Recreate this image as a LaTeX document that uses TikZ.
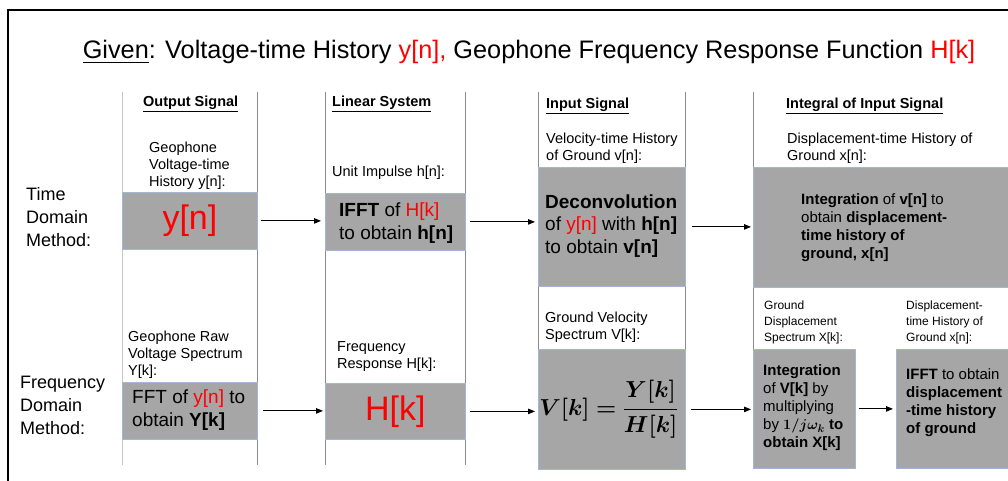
\documentclass[tikz,border=0pt]{standalone}
\usepackage[no-math]{fontspec}
\setmainfont{Liberation Sans}
\usepackage{amsmath,bm,graphicx}
\usetikzlibrary{arrows.meta}
\definecolor{boxfill}{HTML}{A6A6A6}
\definecolor{boxedge}{HTML}{A3B6D3}
\definecolor{sep}{HTML}{8C8C8C}
\definecolor{sepl}{HTML}{C4C4C4}
\definecolor{myred}{HTML}{FF0000}
\newcommand{\rd}[1]{\textcolor{myred}{#1}}
\begin{document}
\begin{tikzpicture}[x=1pt,y=-1pt,
  gbox/.style={draw=boxedge, fill=boxfill, line width=0.8pt, inner sep=0, anchor=north west},
  txt/.style={inner sep=0, align=left, anchor=west},
  lbl/.style={txt, font=\fontsize{14.5}{17}\selectfont},
  slbl/.style={txt, font=\fontsize{12}{16}\selectfont},
  hdr/.style={txt, font=\fontsize{14.5}{17}\selectfont\bfseries},
  bigtxt/.style={txt, font=\fontsize{19}{22.5}\selectfont},
  medtxt/.style={txt, font=\fontsize{15}{18}\selectfont},
  rowtxt/.style={txt, font=\fontsize{18}{23}\selectfont},
  hugetxt/.style={inner sep=0, text=myred, font=\fontsize{34}{40}\selectfont},
  arr/.style={-{Triangle[length=7pt,width=5.5pt]}, line width=0.9pt},
  colline/.style={draw=sep, line width=0.9pt},
]
\useasboundingbox (0,0) rectangle (1008,480);
\clip (0,0) rectangle (1008,480);
\fill[white] (0,0) rectangle (1008,480);
% frame
\draw[line width=2pt] (8,10) rectangle (1030,500);

% title
\node[inner sep=0, font=\fontsize{25.3}{30}\selectfont] (title) at (529,52)
  {\underline{Given}: Voltage-time History \rd{y[n],} Geophone Frequency Response Function \rd{H[k]}};

% column separators
\draw[draw=sepl, line width=0.9pt] (122,92) -- (122,465);
\foreach \x in {257,325,465,538,685} \draw[colline] (\x,92) -- (\x,465);
\draw[colline] (753,92) -- (753,468);

% headers
\node[hdr] (hout) at (143,104) {\underline{Output Signal}};
\node[hdr] (hlin) at (332,104) {\underline{Linear System}};
\node[hdr] (hin) at (546,106) {\underline{Input Signal}};
\node[hdr] (hint) at (786,106) {\underline{Integral of Input Signal}};

% row labels
\node[rowtxt] (rtime) at (26,217) {Time\\Domain\\Method:};
\node[rowtxt] (rfreq) at (20,405) {Frequency\\Domain\\Method:};

% time-domain labels
\node[lbl] (l1) at (149,166) {Geophone\\Voltage-time\\History y[n]:};
\node[lbl] (l2) at (332,173) {Unit Impulse h[n]:};
\node[lbl] (l3) at (546,148) {Velocity-time History\\of Ground v[n]:};
\node[lbl] (l4) at (787,148) {Displacement-time History of\\Ground x[n]:};

% frequency-domain labels
\node[lbl] (m1) at (128,355) {Geophone Raw\\Voltage Spectrum\\Y[k]:};
\node[lbl] (m2) at (337,357) {Frequency\\Response H[k]:};
\node[lbl] (m3) at (545,327) {Ground Velocity\\Spectrum V[k]:};
\node[slbl] (m4) at (764,322) {Ground\\Displacement\\Spectrum X[k]:};
\node[slbl] (m5) at (906,322) {Displacement-\\time History of\\Ground x[n]:};

% time-domain boxes
\node[gbox, minimum width=135, minimum height=57] (yb) at (122,192) {};
\node[gbox, minimum width=140, minimum height=57] (ib) at (325,193) {};
\node[gbox, minimum width=147, minimum height=119] (db) at (538,167) {};
\node[gbox, minimum width=270, minimum height=120] (tb) at (753,167) {};

\node[hugetxt] (ytxt) at (yb.center) {y[n]};
\node[bigtxt] (itxt) at (339,223) {\textbf{IFFT} of \rd{H[k]}\\to obtain \textbf{h[n]}};
\node[bigtxt] (dtxt) at (545,226) {\textbf{Deconvolution}\\of \rd{y[n]} with \textbf{h[n]}\\to obtain \textbf{v[n]}};
\node[medtxt] (ttxt) at (801,228) {\textbf{Integration} of \textbf{v[n]} to\\obtain \textbf{displacement-}\\\textbf{time history of}\\\textbf{ground, x[n]}};

% frequency-domain boxes
\node[gbox, minimum width=135, minimum height=57] (fb) at (122,382) {};
\node[gbox, minimum width=140, minimum height=56] (hb) at (325,383) {};
\node[gbox, minimum width=147, minimum height=120] (vb) at (538,349) {};
\node[gbox, minimum width=102, minimum height=119] (gb) at (753,349) {};
\node[gbox, minimum width=130, minimum height=119] (xb) at (896,349) {};

\node[bigtxt] (ftxt) at (132,410) {FFT of \rd{y[n]} to\\obtain \textbf{Y[k]}};
\node[hugetxt] (htxt) at (hb.center) {H[k]};
\node[inner sep=0, font=\fontsize{24.88}{28}\selectfont] (vtxt) at ([xshift=-3]vb.center) {\scalebox{0.93}{$\bm{V[k]=\dfrac{Y[k]}{H[k]}}$}};
\node[medtxt] (gtxt) at (763,408) {\textbf{Integration}\\of \textbf{V[k]} by\\multiplying\\by $\bm{1/j\omega_k}$ \textbf{to}\\\textbf{obtain X[k]}};
\node[medtxt] (xtxt) at (906,403) {\textbf{IFFT} to obtain\\\textbf{displacement}\\\textbf{-time history}\\\textbf{of ground}};

% arrows
\draw[arr] ([xshift=3]yb.east) -- ([xshift=-4]yb.east -| ib.west);
\draw[arr] ([xshift=4]ib.east) -- ([xshift=-3]ib.east -| db.west);
\draw[arr] ([xshift=6]db.east) -- ([xshift=-2]db.east -| tb.west);
\draw[arr] ([xshift=5]fb.east) -- ([xshift=-2]fb.east -| hb.west);
\draw[arr] ([xshift=4]hb.east) -- ([xshift=-3]hb.east -| vb.west);
\draw[arr] ([xshift=5]vb.east) -- ([xshift=-2]vb.east -| gb.west);
\draw[arr] ([xshift=3]gb.east) -- ([xshift=-3]gb.east -| xb.west);
\end{tikzpicture}
\end{document}
